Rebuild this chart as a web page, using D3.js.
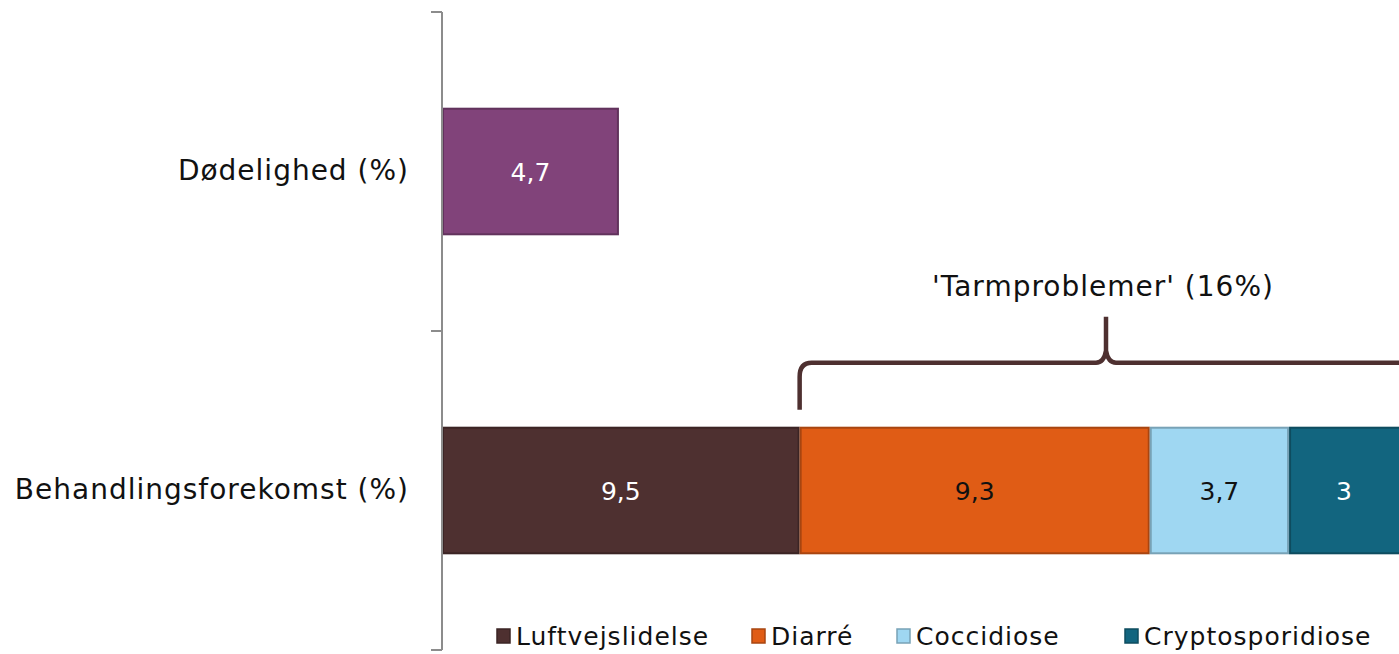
<!DOCTYPE html>
<html><head><meta charset="utf-8">
<script src="https://cdn.jsdelivr.net/npm/d3@7"></script>
<style>body{margin:0;background:#fff}svg{display:block}text{font-family:"DejaVu Sans",sans-serif}</style>
</head><body>
<svg id="c" width="1399" height="654"></svg>
<script>
const categories = ["Dødelighed (%)", "Behandlingsforekomst (%)"];
const seriesNames = ["Dødelighed", "Luftvejslidelse", "Diarré", "Coccidiose", "Cryptosporidiose"];
const dodelighed = [4.7, 0];
const luftvej = [0, 9.5];
const diarre = [0, 9.3];
const coccidiose = [0, 3.7];
const crypto = [0, 3];
const legendNames = ["Luftvejslidelse", "Diarré", "Coccidiose", "Cryptosporidiose"];
const braceLabel = "'Tarmproblemer' (16%)";
const braceFrom = "Diarré", braceTo = "Cryptosporidiose";

const colors = {"Dødelighed":"#81437A","Luftvejslidelse":"#4E3030","Diarré":"#E05C15","Coccidiose":"#9FD7F2","Cryptosporidiose":"#12657F"};
const labelColors = {"Dødelighed":"#fff","Luftvejslidelse":"#fff","Diarré":"#111","Coccidiose":"#111","Cryptosporidiose":"#fff"};
const allSeries = [dodelighed, luftvej, diarre, coccidiose, crypto];

const rows = categories.map((c,i)=>{const r={cat:c}; seriesNames.forEach((s,j)=>r[s]=allSeries[j][i]); return r;});
const stack = d3.stack().keys(seriesNames)(rows);

const svg = d3.select("#c");
const x = d3.scaleLinear().domain([0, 25.5]).range([442, 1402]);
const y = d3.scaleBand().domain(categories).range([12, 650]).paddingInner(0.6).paddingOuter(0.3);

// bars
const g = svg.append("g");
stack.forEach((layer, si)=>{
  const key = layer.key;
  layer.forEach((d,i)=>{
    const v = allSeries[si][i];
    if (!(v > 0)) return;
    const x0 = x(d[0]), x1 = x(d[1]);
    g.append("rect").attr("x", x0+1).attr("y", y(categories[i])+1)
      .attr("width", Math.max(0, x1-x0-2)).attr("height", y.bandwidth()-2)
      .attr("fill", colors[key]).attr("stroke", d3.color(colors[key]).darker(0.8)).attr("stroke-width", 2);
    g.append("text").attr("x", (x0+Math.min(x1,1399))/2).attr("y", y(categories[i])+y.bandwidth()/2)
      .attr("dy","0.36em").attr("text-anchor","middle").attr("font-size",25)
      .attr("fill", labelColors[key]).text(String(v).replace(".", ","));
  });
});

// axis
const yAxis = d3.axisLeft(y).tickSize(0).tickPadding(33);
const ax = svg.append("g").attr("transform","translate(442,0)").call(yAxis);
ax.select(".domain").remove();
ax.selectAll("text").attr("font-size",28).attr("letter-spacing",1).attr("fill","#111").attr("font-family","DejaVu Sans");
svg.append("line").attr("x1",442).attr("x2",442).attr("y1",12).attr("y2",650).attr("stroke","#8c8c8c").attr("stroke-width",2);
const boundaries = [12, (y(categories[0])+y.bandwidth()+y(categories[1]))/2, 650];
boundaries.forEach(b=>svg.append("line").attr("x1",431).attr("x2",442).attr("y1",b).attr("y2",b).attr("stroke","#8c8c8c").attr("stroke-width",2));

// brace
const bi = categories.length-1;
const fromIdx = seriesNames.indexOf(braceFrom), toIdx = seriesNames.indexOf(braceTo);
const bx0 = x(stack[fromIdx][bi][0]), bx1 = Math.min(x(stack[toIdx][bi][1]), 1399);
const barTop = y(categories[bi]);
const by = barTop-64, bot = barTop-17, mid = 1106;
const p = d3.path();
p.moveTo(bx0, bot);
p.lineTo(bx0, by+14);
p.quadraticCurveTo(bx0, by, bx0+12, by);
p.lineTo(mid-10, by);
p.quadraticCurveTo(mid-2, by, mid, by-12);
p.lineTo(mid, by-46);
p.moveTo(mid, by-12);
p.quadraticCurveTo(mid+2, by, mid+10, by);
p.lineTo(bx1+5, by);
svg.append("path").attr("d", p.toString()).attr("fill","none").attr("stroke","#4E3030").attr("stroke-width",4.5);
svg.append("text").attr("x", 1103).attr("y", 296).attr("text-anchor","middle").attr("font-size",28).attr("letter-spacing",1).attr("fill","#111").text(braceLabel);

// legend
const lx = [497, 752, 897, 1125];
const lg = svg.append("g");
legendNames.forEach((n,i)=>{
  lg.append("rect").attr("x", lx[i]).attr("y", 629).attr("width",13).attr("height",14)
    .attr("fill", colors[n]).attr("stroke", d3.color(colors[n]).darker(0.8)).attr("stroke-width",1.5);
  lg.append("text").attr("x", lx[i]+19).attr("y", 636).attr("dy","0.36em").attr("font-size",25).attr("letter-spacing",1).attr("fill","#111").text(n);
});
</script>
</body></html>
